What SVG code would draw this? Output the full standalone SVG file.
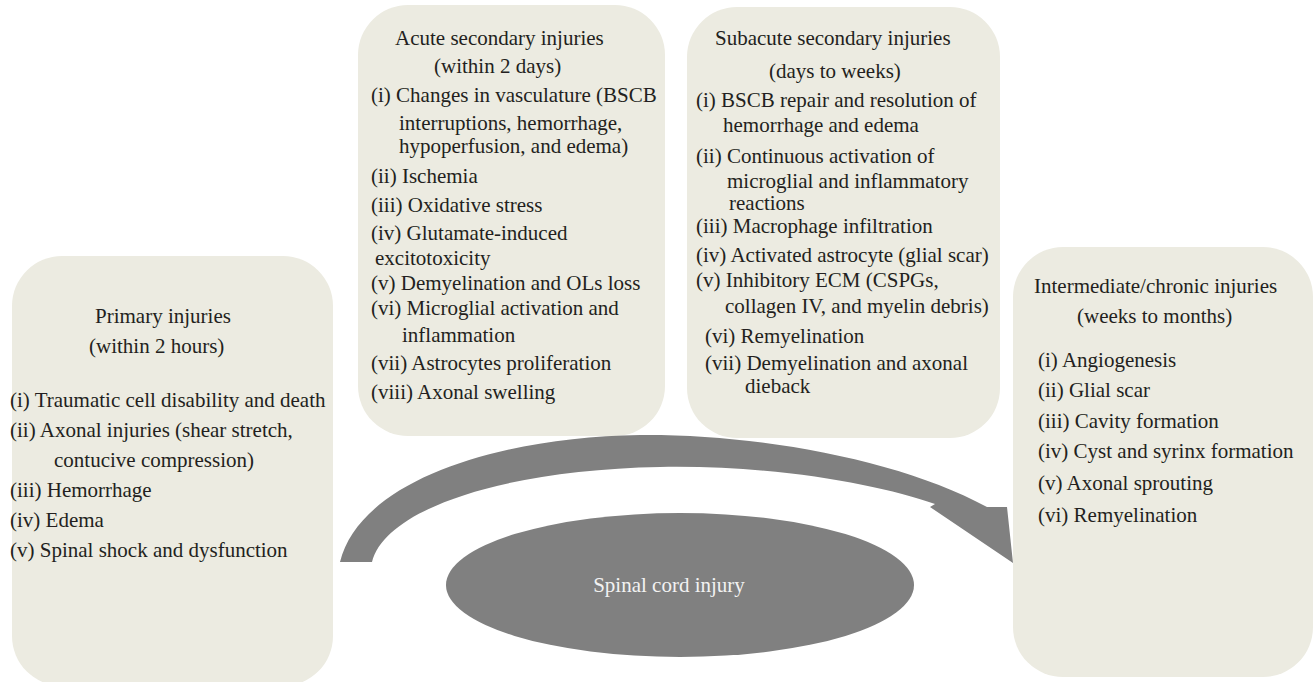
<svg xmlns="http://www.w3.org/2000/svg" width="1315" height="682" viewBox="0 0 1315 682">
<style>
.box{fill:#ECEBE1;}
.t{font-family:"Liberation Serif","Times New Roman",serif;font-size:21px;fill:#231F20;}
.shape{fill:#808080;}
.w{font-family:"Liberation Serif","Times New Roman",serif;font-size:21px;fill:#F2F2F2;}
</style>
<rect width="1315" height="682" fill="#FFFFFF"/>
<g id="primary">
<rect class="box" x="12" y="256" width="321" height="430" rx="50" ry="50"/>
<text class="t" x="95" y="323">Primary injuries</text>
<text class="t" x="89" y="353">(within 2 hours)</text>
<text class="t" x="10" y="407">(i) Traumatic cell disability and death</text>
<text class="t" x="10" y="437">(ii) Axonal injuries (shear stretch,</text>
<text class="t" x="54" y="467">contucive compression)</text>
<text class="t" x="10" y="497">(iii) Hemorrhage</text>
<text class="t" x="10" y="527">(iv) Edema</text>
<text class="t" x="10" y="557">(v) Spinal shock and dysfunction</text>
</g>
<g id="acute">
<rect class="box" x="358" y="5" width="307" height="431" rx="50" ry="50"/>
<text class="t" x="395" y="45">Acute secondary injuries</text>
<text class="t" x="434" y="73">(within 2 days)</text>
<text class="t" x="371" y="102">(i) Changes in vasculature (BSCB</text>
<text class="t" x="399" y="130">interruptions, hemorrhage,</text>
<text class="t" x="399" y="153">hypoperfusion, and edema)</text>
<text class="t" x="371" y="183">(ii) Ischemia</text>
<text class="t" x="371" y="212">(iii) Oxidative stress</text>
<text class="t" x="371" y="240">(iv) Glutamate-induced</text>
<text class="t" x="375" y="265">excitotoxicity</text>
<text class="t" x="371" y="290">(v) Demyelination and OLs loss</text>
<text class="t" x="371" y="315">(vi) Microglial activation and</text>
<text class="t" x="402" y="342">inflammation</text>
<text class="t" x="371" y="370">(vii) Astrocytes proliferation</text>
<text class="t" x="371" y="399">(viii) Axonal swelling</text>
</g>
<g id="subacute">
<rect class="box" x="687" y="7" width="313" height="431" rx="50" ry="50"/>
<text class="t" x="715" y="45">Subacute secondary injuries</text>
<text class="t" x="769" y="78">(days to weeks)</text>
<text class="t" x="696" y="107">(i) BSCB repair and resolution of</text>
<text class="t" x="723" y="132">hemorrhage and edema</text>
<text class="t" x="696" y="163">(ii) Continuous activation of</text>
<text class="t" x="727" y="188">microglial and inflammatory</text>
<text class="t" x="729" y="210">reactions</text>
<text class="t" x="696" y="233">(iii) Macrophage infiltration</text>
<text class="t" x="696" y="262">(iv) Activated astrocyte (glial scar)</text>
<text class="t" x="696" y="287">(v) Inhibitory ECM (CSPGs,</text>
<text class="t" x="725" y="313">collagen IV, and myelin debris)</text>
<text class="t" x="705" y="343">(vi) Remyelination</text>
<text class="t" x="705" y="370">(vii) Demyelination and axonal</text>
<text class="t" x="745" y="393">dieback</text>
</g>
<g id="chronic">
<rect class="box" x="1013" y="247" width="300" height="430" rx="50" ry="50"/>
<text class="t" x="1034" y="293">Intermediate/chronic injuries</text>
<text class="t" x="1077" y="323">(weeks to months)</text>
<text class="t" x="1038" y="367">(i) Angiogenesis</text>
<text class="t" x="1038" y="397">(ii) Glial scar</text>
<text class="t" x="1038" y="428">(iii) Cavity formation</text>
<text class="t" x="1038" y="458">(iv) Cyst and syrinx formation</text>
<text class="t" x="1038" y="490">(v) Axonal sprouting</text>
<text class="t" x="1038" y="522">(vi) Remyelination</text>
</g>
<g id="connectors">
<path class="shape" d="M340,562 C360,480 500,437 640,435 C760,434 900,460 987,507 L1007,507 L1013,563 L930,507 L935,504 C880,485 780,465 660,467 C500,470 385,510 372,562 Z"/>
</g>
<g id="spinal-cord-injury">
<ellipse class="shape" cx="680" cy="585" rx="234" ry="72"/>
<text class="w" x="669" y="592" text-anchor="middle">Spinal cord injury</text>
</g>
</svg>
